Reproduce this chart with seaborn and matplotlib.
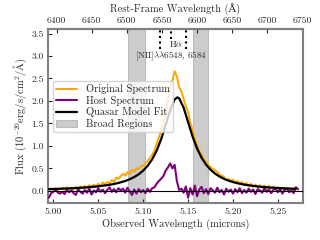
import numpy as np
import matplotlib
matplotlib.use("Agg")
import matplotlib.pyplot as plt
import seaborn as sns

# redshift factor (1+z) linking observed and rest-frame wavelengths
one_plus_z = 7.818

# observed wavelength grid (microns) for the spectra
wave = [4.9950, 4.9975, 5.0000, 5.0025, 5.0050, 5.0075, 5.0100, 5.0125, 5.0150, 5.0175,
        5.0200, 5.0225, 5.0250, 5.0275, 5.0300, 5.0325, 5.0350, 5.0375, 5.0400, 5.0425,
        5.0450, 5.0475, 5.0500, 5.0525, 5.0550, 5.0575, 5.0600, 5.0625, 5.0650, 5.0675,
        5.0700, 5.0725, 5.0750, 5.0775, 5.0800, 5.0825, 5.0850, 5.0875, 5.0900, 5.0925,
        5.0950, 5.0975, 5.1000, 5.1025, 5.1050, 5.1075, 5.1100, 5.1125, 5.1150, 5.1175,
        5.1200, 5.1225, 5.1250, 5.1275, 5.1300, 5.1325, 5.1350, 5.1375, 5.1400, 5.1425,
        5.1450, 5.1475, 5.1500, 5.1525, 5.1550, 5.1575, 5.1600, 5.1625, 5.1650, 5.1675,
        5.1700, 5.1725, 5.1750, 5.1775, 5.1800, 5.1825, 5.1850, 5.1875, 5.1900, 5.1925,
        5.1950, 5.1975, 5.2000, 5.2025, 5.2050, 5.2075, 5.2100, 5.2125, 5.2150, 5.2175,
        5.2200, 5.2225, 5.2250, 5.2275, 5.2300, 5.2325, 5.2350, 5.2375, 5.2400, 5.2425,
        5.2450, 5.2475, 5.2500, 5.2525, 5.2550, 5.2575, 5.2600, 5.2625, 5.2650, 5.2675,
        5.2700, 5.2725]

original_flux = [0.02, 0.05, 0.03, 0.06, 0.02, 0.05, 0.07, 0.03, 0.08, 0.04,
                 0.07, 0.03, 0.09, 0.05, 0.10, 0.06, 0.11, 0.07, 0.13, 0.09,
                 0.14, 0.10, 0.16, 0.12, 0.19, 0.14, 0.20, 0.17, 0.24, 0.20,
                 0.30, 0.27, 0.33, 0.38, 0.34, 0.42, 0.38, 0.47, 0.43, 0.50,
                 0.48, 0.55, 0.56, 0.62, 0.66, 0.74, 0.80, 0.90, 1.05, 1.18,
                 1.36, 1.50, 1.78, 2.02, 2.30, 2.45, 2.66, 2.55, 2.30, 2.22,
                 2.05, 1.88, 1.75, 1.52, 1.35, 1.15, 1.02, 0.88, 0.82, 0.70,
                 0.66, 0.58, 0.53, 0.49, 0.46, 0.42, 0.36, 0.34, 0.31, 0.24,
                 0.27, 0.22, 0.25, 0.19, 0.22, 0.16, 0.20, 0.13, 0.18, 0.11,
                 0.16, 0.09, 0.14, 0.08, 0.13, 0.07, 0.12, 0.06, 0.11, 0.05,
                 0.10, 0.04, 0.08, 0.03, 0.07, 0.03, 0.06, 0.02, 0.05, 0.02,
                 0.07, 0.03]

host_flux = [-0.15, -0.05, -0.02, 0.03, -0.04, -0.06, -0.02, -0.07, 0.02, -0.03,
             0.01, -0.05, -0.09, 0.04, -0.02, -0.06, 0.02, -0.04, 0.05, -0.08,
             0.01, -0.03, 0.06, -0.02, 0.03, -0.05, 0.02, 0.08, -0.02, 0.04,
             -0.03, 0.06, 0.01, 0.05, -0.04, 0.07, -0.02, -0.09, 0.03, -0.06,
             0.04, -0.03, 0.02, -0.05, 0.05, -0.02, 0.06, 0.08, 0.16, 0.22,
             0.27, 0.33, 0.45, 0.52, 0.61, 0.50, 0.58, 0.22, 0.02, 0.05,
             -0.04, 0.10, -0.15, 0.06, -0.08, 0.12, -0.12, 0.03, 0.09, -0.05,
             0.04, -0.07, 0.06, 0.01, -0.04, 0.07, -0.03, 0.02, -0.08, 0.05,
             -0.02, 0.03, -0.06, 0.04, -0.03, 0.06, -0.05, 0.02, -0.04, 0.05,
             -0.02, 0.03, -0.07, 0.04, 0.01, -0.04, 0.06, -0.02, 0.03, -0.05,
             0.02, 0.05, -0.03, 0.04, -0.06, 0.02, 0.05, -0.03, 0.01, -0.05,
             0.08, 0.04]

fit_wave = [4.995, 5.000, 5.005, 5.010, 5.015, 5.020, 5.025, 5.030, 5.035, 5.040,
            5.045, 5.050, 5.055, 5.060, 5.065, 5.070, 5.075, 5.080, 5.085, 5.090,
            5.095, 5.100, 5.105, 5.110, 5.115, 5.120, 5.125, 5.130, 5.135, 5.138,
            5.140, 5.145, 5.150, 5.155, 5.160, 5.165, 5.170, 5.175, 5.180, 5.185,
            5.190, 5.195, 5.200, 5.205, 5.210, 5.215, 5.220, 5.225, 5.230, 5.235,
            5.240, 5.245, 5.250, 5.255, 5.260, 5.265, 5.270]
fit_flux = [0.040, 0.043, 0.046, 0.050, 0.054, 0.058, 0.063, 0.069, 0.075, 0.083,
            0.092, 0.103, 0.115, 0.129, 0.145, 0.165, 0.191, 0.221, 0.260, 0.308,
            0.370, 0.452, 0.559, 0.703, 0.896, 1.150, 1.463, 1.793, 2.035, 2.080,
            2.060, 1.853, 1.530, 1.208, 0.942, 0.737, 0.585, 0.471, 0.385, 0.319,
            0.268, 0.228, 0.196, 0.171, 0.149, 0.132, 0.117, 0.105, 0.093, 0.085,
            0.077, 0.070, 0.064, 0.059, 0.055, 0.051, 0.047]

# broad-line windows in the rest frame (Angstrom)
broad_lo = [6502, 6594]
broad_hi = [6526, 6616]

# narrow line rest wavelengths and marker heights
nii_lines = [6548, 6584]
nii_bottom = 3.15
ha_line = 6563
ha_bottom = 3.37

rest_ticks = [6400, 6450, 6500, 6550, 6600, 6650, 6700, 6750]
obs_ticks = [5.00, 5.05, 5.10, 5.15, 5.20, 5.25]
y_ticks = [0.0, 0.5, 1.0, 1.5, 2.0, 2.5, 3.0, 3.5]

sns.set_style("ticks")
plt.rcParams["font.family"] = ["cmr10", "DejaVu Serif"]
plt.rcParams["mathtext.fontset"] = "cm"
plt.rcParams["axes.formatter.use_mathtext"] = True
plt.rcParams["axes.unicode_minus"] = False


def to_rest(x):
    return np.asarray(x) * 1e4 / one_plus_z


def to_obs(x):
    return np.asarray(x) * one_plus_z / 1e4


fig, ax = plt.subplots(figsize=(3.2, 2.4), dpi=100)
fig.subplots_adjust(left=0.15, right=0.947, bottom=0.154, top=0.879)

for i in range(len(broad_lo)):
    ax.axvspan(to_obs(broad_lo[i]), to_obs(broad_hi[i]), color="gray", alpha=0.4,
               lw=0.8, label="Broad Regions" if i == 0 else None, zorder=0)

sns.lineplot(x=wave, y=original_flux, color="orange", lw=1.4, ax=ax,
             label="Original Spectrum", sort=False, estimator=None, zorder=2)
sns.lineplot(x=wave, y=host_flux, color="purple", lw=1.5, ax=ax,
             label="Host Spectrum", sort=False, estimator=None, zorder=3)
sns.lineplot(x=fit_wave, y=fit_flux, color="black", lw=1.6, ax=ax,
             label="Quasar Model Fit", sort=False, estimator=None, zorder=4)
ax.axhline(0, color="black", lw=0.8, zorder=5)

ymax = 3.6
ax.vlines(to_obs(nii_lines), nii_bottom, ymax, colors="black", linestyles=":", lw=1.5)
ax.vlines(to_obs(ha_line), ha_bottom, ymax, colors="black", linestyles=":", lw=1.5)
ax.text(5.1365, 3.26, r"H$\alpha$", ha="center", va="center", fontsize=6.5)
ax.text(5.131, 2.99, r"[NII]$\lambda\lambda$6548, 6584", ha="center", va="center",
        fontsize=6.5)

ax.set_xlim(4.994, 5.278)
ax.set_ylim(-0.27, ymax)
ax.set_xticks(obs_ticks)
ax.set_yticks(y_ticks)
ax.set_xticklabels([f"{t:.2f}" for t in obs_ticks])
ax.set_yticklabels([f"{t:.1f}" for t in y_ticks])
ax.set_xlabel("Observed Wavelength (microns)", fontsize=7.5, labelpad=2)
ax.set_ylabel(r"Flux (10$^{-20}$erg/s/cm$^{2}$/$\mathrm{\AA}$)", fontsize=7.5, labelpad=2)
ax.tick_params(direction="in", labelsize=7, length=3, width=0.8, pad=3)

sec = ax.secondary_xaxis("top", functions=(to_rest, to_obs))
sec.set_xticks(rest_ticks)
sec.set_xticklabels([str(t) for t in rest_ticks])
sec.set_xlabel("Rest-Frame Wavelength (Å)", fontsize=7.5, labelpad=3)
sec.tick_params(direction="in", labelsize=7, length=3, width=0.8, pad=3)

for sp in list(ax.spines.values()) + list(sec.spines.values()):
    sp.set_color("gray")
    sp.set_linewidth(1.5)

# legend order: the three spectra, then the shaded windows
handles, labels = ax.get_legend_handles_labels()
order = [labels.index(n) for n in
         ["Original Spectrum", "Host Spectrum", "Quasar Model Fit", "Broad Regions"]]
ax.legend([handles[k] for k in order], [labels[k] for k in order],
          loc="upper left", bbox_to_anchor=(0.0, 0.73), fontsize=7.5,
          frameon=True, handlelength=2.0, borderpad=0.3, labelspacing=0.15)

plt.savefig("out.png", dpi=100)
